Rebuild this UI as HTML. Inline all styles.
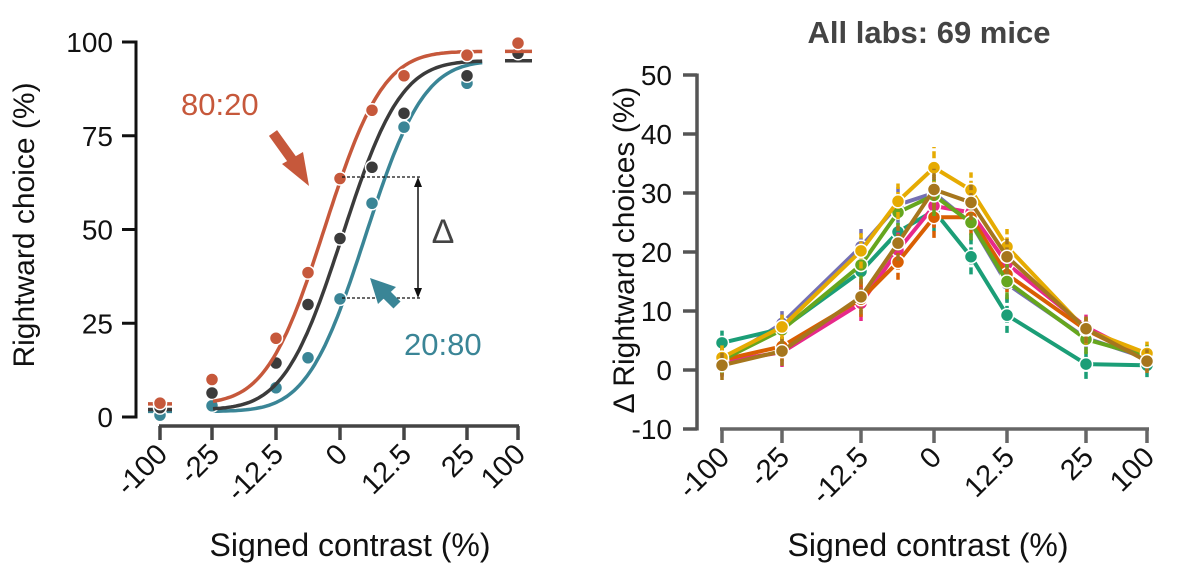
<!DOCTYPE html>
<html><head><meta charset="utf-8"><style>
body{margin:0;background:#fff;}
svg{display:block;font-family:"Liberation Sans",Arial,sans-serif;}
</style></head><body>
<svg id="c" width="1200" height="565" viewBox="0 0 1200 565"></svg>
<script>
// ---------- Left panel data ----------
const leftCats = ["-100","-25","-12.5","-6.25","0","6.25","12.5","25","100"];
const leftTickLabels = ["-100","-25","-12.5","0","12.5","25","100"];
const leftYTicks = [0,25,50,75,100];
const orangeVals = [3.7,10,21,38.5,63.6,81.8,91,96.5,99.7];
const blackVals = [2.5,6.4,14.4,30,47.6,66.6,81,91,97];
const tealVals = [0.5,3,7.8,15.8,31.5,57,77.3,89,97];
// fit params: [mu, sigma, lower, upper]
const orangeFit = [-3,9,3.5,97.5];
const blackFit = [0.5,9,2,95];
const tealFit = [5,9,1.5,95];

// ---------- Right panel data ----------
const rightCats = ["-100","-25","-12.5","-6.25","0","6.25","12.5","25","100"];
const rightTickLabels = ["-100","-25","-12.5","0","12.5","25","100"];
const rightYTicks = [-10,0,10,20,30,40,50];
const labNames = ["purple","teal","pink","orange","green","yellow","brown"];
const labColors = ["#7570b3","#1b9e77","#e7298a","#d95f02","#66a61e","#e6ab02","#a6761d"];
const labPurple = [1.4,7.9,20.9,28,30,24.9,14.6,5.4,2];
const labTeal = [4.6,7,16.7,23.4,27,19.2,9.3,1,0.8];
const labPink = [1.4,3,11.3,20.3,27.8,26.7,18,7.3,2];
const labOrange = [1.7,4,12,18.3,25.9,25.9,16.2,6.8,1.7];
const labGreen = [1.7,6.8,17.8,26.7,29.6,25,15,5.2,2.3];
const labYellow = [2.1,7.3,20.2,28.6,34.3,30.5,20.9,6.8,2.8];
const labBrown = [0.8,3.2,12.4,21.5,30.6,28.4,19.2,7,1.5];
const labErr = [2.5,2.5,3,3,3.5,3,3,2.5,2];

const NS="http://www.w3.org/2000/svg";
const svg=document.getElementById('c');
function mk(tag,attrs,parent){const e=document.createElementNS(NS,tag);for(const k in attrs)e.setAttribute(k,attrs[k]);(parent||svg).appendChild(e);return e;}

// ---- Left axes ----
const lxPos=[160,212,276,308,340,372,404,467,518];
const lx=i=>lxPos[i];
const ly=v=>417-v*3.75;
const cToX=c=>340+c*5.08;
const gL=mk('g',{});


let a=mk('line',{x1:136,y1:ly(0)+1.5,x2:136,y2:ly(100)-1.5,stroke:'#111','stroke-width':3},gL);

leftYTicks.forEach(v=>{
  mk('line',{x1:122,x2:136,y1:ly(v),y2:ly(v),stroke:'#111','stroke-width':3},gL);
  const t=mk('text',{x:113,y:ly(v)+10,'text-anchor':'end','font-size':28,fill:'#111'},gL);t.textContent=v;
  
});
a=mk('line',{x1:159,y1:426,x2:519,y2:426,stroke:'#444','stroke-width':3.5},gL);

const leftTickIdx=[0,1,2,4,6,7,8];
leftTickLabels.forEach((lab,j)=>{
  const x=lx(leftTickIdx[j]);
  mk('line',{x1:x,x2:x,y1:426,y2:440,stroke:'#444','stroke-width':3.5},gL);
  const t=mk('text',{x:x+9,y:456,'text-anchor':'end','font-size':29,fill:'#111',transform:`rotate(-45 ${x+9} 456)`},gL);t.textContent=lab;
  
});
let t=mk('text',{x:0,y:0,'text-anchor':'middle','font-size':30,fill:'#111',transform:'translate(34 225) rotate(-90)'},gL);
t.textContent='Rightward choice (%)';
t=mk('text',{x:350,y:556,'text-anchor':'middle','font-size':32,fill:'#111'},gL);
t.textContent='Signed contrast (%)';

function erf(x){const s=Math.sign(x);x=Math.abs(x);const tt=1/(1+0.3275911*x);const y=1-(((((1.061405429*tt-1.453152027)*tt)+1.421413741)*tt-0.284496736)*tt+0.254829592)*tt*Math.exp(-x*x);return s*y;}
function psy(c,p){return p[2]+(p[3]-p[2])*0.5*(1+erf((c-p[0])/(p[1]*Math.SQRT2)));}
function drawLeft(vals,fit,col,name){
  let d='';
  for(let c=-25;c<=28;c+=0.5){d+=(d?'L':'M')+cToX(c).toFixed(1)+','+ly(psy(c,fit)).toFixed(1);}
  let p=mk('path',{d,fill:'none',stroke:col,'stroke-width':3.5},gL);
  
  p=mk('line',{x1:148,x2:172,y1:ly(psy(-100,fit)),y2:ly(psy(-100,fit)),stroke:col,'stroke-width':3.5},gL);
  
  p=mk('line',{x1:505,x2:532,y1:ly(psy(100,fit)),y2:ly(psy(100,fit)),stroke:col,'stroke-width':3.5},gL);
  
  vals.forEach((v,i)=>{
    const c=mk('circle',{cx:lx(i),cy:ly(v),r:6.5,fill:col,stroke:'#fff','stroke-width':1.5},gL);
    
  });
}
drawLeft(tealVals,tealFit,'#3a8596','teal-2080');
drawLeft(blackVals,blackFit,'#3b3b3b','black-5050');
drawLeft(orangeVals,orangeFit,'#c6583b','orange-8020');
// delta annotation
mk('line',{x1:342,x2:420,y1:177,y2:177,stroke:'#111','stroke-width':1.3,'stroke-dasharray':'3,2'},gL);
mk('line',{x1:342,x2:420,y1:298,y2:298,stroke:'#111','stroke-width':1.3,'stroke-dasharray':'3,2'},gL);
a=mk('line',{x1:418,x2:418,y1:181,y2:294,stroke:'#111','stroke-width':1.5},gL);

mk('path',{d:'M414,187 L418,177 L422,187 Z M414,288 L418,298 L422,288 Z',fill:'#111'},gL);
t=mk('text',{x:443,y:243,'text-anchor':'middle','font-size':34,fill:'#444'},gL);t.textContent='Δ';

t=mk('text',{x:181,y:115,'font-size':31,fill:'#c6583b'},gL);t.textContent='80:20';

t=mk('text',{x:404,y:355,'font-size':31,fill:'#3a8596'},gL);t.textContent='20:80';

a=mk('line',{x1:273,y1:133,x2:296,y2:165,stroke:'#c6583b','stroke-width':10},gL);

mk('path',{d:'M282,164 L309,186 L303,152 Z',fill:'#c6583b'},gL);
a=mk('line',{x1:397,y1:305,x2:382,y2:290,stroke:'#3a8596','stroke-width':10},gL);

mk('path',{d:'M370,278 L396,287 L378,304 Z',fill:'#3a8596'},gL);

// ---- Right axes ----
const rxPos=[722,782,861,898,934,971,1007,1086,1147];
const rx=i=>rxPos[i];
const ry=v=>370-v*5.9;
const gR=mk('g',{});


a=mk('line',{x1:697,y1:ry(-10)+1.5,x2:697,y2:ry(50)-1.5,stroke:'#555','stroke-width':3.5},gR);

rightYTicks.forEach(v=>{
  mk('line',{x1:683,x2:697,y1:ry(v),y2:ry(v),stroke:'#555','stroke-width':3.5},gR);
  const tt=mk('text',{x:672,y:ry(v)+10,'text-anchor':'end','font-size':28,fill:'#111'},gR);tt.textContent=v;
  
});
a=mk('line',{x1:720,y1:429,x2:1149,y2:429,stroke:'#666','stroke-width':3.5},gR);

rightTickLabels.forEach((lab,j)=>{
  const x=rx(leftTickIdx[j]);
  mk('line',{x1:x,x2:x,y1:429,y2:443,stroke:'#666','stroke-width':3.5},gR);
  const tt=mk('text',{x:x+9,y:459,'text-anchor':'end','font-size':29,fill:'#111',transform:`rotate(-45 ${x+9} 459)`},gR);tt.textContent=lab;
  
});
t=mk('text',{x:0,y:0,'text-anchor':'middle','font-size':30,fill:'#111',transform:'translate(634 250) rotate(-90)'},gR);
t.textContent='Δ Rightward choices (%)';
t=mk('text',{x:928,y:556,'text-anchor':'middle','font-size':32,fill:'#111'},gR);
t.textContent='Signed contrast (%)';
t=mk('text',{x:929,y:43,'text-anchor':'middle','font-size':31,'font-weight':'bold',fill:'#444'},gR);
t.textContent='All labs: 69 mice';

const labSeries=[labPurple,labTeal,labPink,labOrange,labGreen,labYellow,labBrown];
labSeries.forEach((vals,k)=>{
  const col=labColors[k];
  const g=mk('g',{},gR);
  
  
  vals.forEach((v,i)=>{
    const e=mk('line',{x1:rx(i),x2:rx(i),y1:ry(v-labErr[i]),y2:ry(v+labErr[i]),stroke:col,'stroke-width':3.5,'stroke-dasharray':'7,3'},g);
    
  });
  const p=mk('polyline',{points:vals.map((v,i)=>rx(i)+','+ry(v)).join(' '),fill:'none',stroke:col,'stroke-width':4,'stroke-linejoin':'round'},g);
  
  vals.forEach((v,i)=>{
    const c=mk('circle',{cx:rx(i),cy:ry(v),r:6.5,fill:col,stroke:'#fff','stroke-width':1.5},g);
    
  });
});
</script>
</body></html>
